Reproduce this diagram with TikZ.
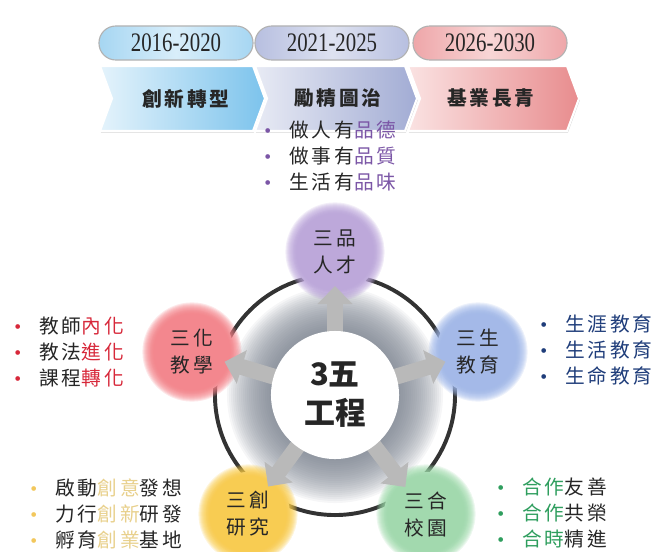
\documentclass[tikz,border=0pt]{standalone}
\usepackage{fontspec}
\setmainfont{Liberation Serif}
\newfontfamily\cjk[LetterSpace=14]{Noto Sans CJK TC}
\newfontfamily\cjkwide{Noto Sans CJK TC}
\newfontfamily\yearfont[FakeStretch=0.78]{Liberation Serif}
\usetikzlibrary{arrows.meta,shadows}

\definecolor{pinpurple}{HTML}{B9A2D9}
\definecolor{pinred}{HTML}{F37E85}
\definecolor{pinblue}{HTML}{9DB5E8}
\definecolor{pinyellow}{HTML}{F8C944}
\definecolor{pingreen}{HTML}{9BD8A8}
\definecolor{tpurple}{HTML}{7B56A6}
\definecolor{tred}{HTML}{D7283A}
\definecolor{tblue}{HTML}{1F3D7A}
\definecolor{tyellow}{HTML}{E8D08C}
\definecolor{byellow}{HTML}{F2C75C}
\definecolor{tgreen}{HTML}{2F9E5E}
\definecolor{haze}{HTML}{737B88}
\definecolor{skyA}{HTML}{A6D6F2}
\definecolor{skyB}{HTML}{D9EEFA}
\definecolor{skyC}{HTML}{7CC3EC}
\definecolor{lilacA}{HTML}{B7BFE0}
\definecolor{lilacB}{HTML}{DEE2F0}
\definecolor{lilacC}{HTML}{A2ACD4}
\definecolor{roseA}{HTML}{EEA6A9}
\definecolor{roseB}{HTML}{F8D6D6}
\definecolor{roseC}{HTML}{E88C8E}

\newcommand\bul[1]{\makebox[0.63cm][l]{\textcolor{#1}{\rmfamily\textbullet}}}

\tikzset{
  pillar/.style={circle, minimum size=2.5cm, inner sep=0pt, align=center,
    font=\cjk\fontsize{14}{19.2}\selectfont, text=black!85,
    path picture={
      \fill[white] (path picture bounding box.center) circle[radius=1.05cm];
      \foreach \k in {0,...,11}
        \fill[#1, opacity=0.18] (path picture bounding box.center) circle[radius=1.24cm-\k*0.025cm];
    }},
  listnode/.style={anchor=west, align=left, inner sep=0pt,
    font=\cjk\fontsize{14}{18.5}\selectfont, text=black!85},
  yearpill/.style={rounded corners=0.42cm, minimum width=3.85cm, minimum height=0.85cm,
    draw=gray!60, line width=0.8pt, font=\yearfont\fontsize{19}{20}\selectfont, text=black!85},
  phasebox/.style={draw=white, line width=1.5pt,
    drop shadow={opacity=0.35, shadow xshift=0.6pt, shadow yshift=-1.2pt}},
  phasetext/.style={font=\cjk\bfseries\fontsize{14}{16}\selectfont, text=black!85},
  spoke/.style={line width=0.4cm, gray!55, -{Triangle[width=0.85cm,length=0.45cm]},
    shorten <=1.5cm, shorten >=0.85cm},
}

\begin{document}
\begin{tikzpicture}[x=0.025cm, y=-0.025cm]
  \useasboundingbox (0,0) rectangle (651,552);

  % timeline
  \node[yearpill, left color=skyA, right color=skyA, middle color=skyB] (y1) at (176,43) {2016-2020};
  \node[yearpill, left color=lilacA, right color=lilacA, middle color=lilacB] (y2) at (332,43) {2021-2025};
  \node[yearpill, left color=roseA, right color=roseA, middle color=roseB] (y3) at (490,43) {2026-2030};

  \draw[phasebox, left color=skyB!70!white, right color=skyC] (100,66) -- (253,66) -- (265,98.5) -- (253,131) -- (100,131) -- (112,98.5) -- cycle;
  \draw[phasebox, left color=lilacB!70!white, right color=lilacC] (255,66) -- (405,66) -- (417,98.5) -- (405,131) -- (255,131) -- (267,98.5) -- cycle;
  \draw[phasebox, left color=roseB!70!white, right color=roseC] (408,66) -- (567,66) -- (579,98.5) -- (567,131) -- (408,131) -- (420,98.5) -- cycle;
  \node[phasetext] (ph1) at (186,98.5) {創新轉型};
  \node[phasetext] (ph2) at (338,98.5) {勵精圖治};
  \node[phasetext] (ph3) at (491,98.5) {基業長青};

  % wheel
  \coordinate (c) at (335,395);
  \foreach \k in {0,...,21}
    \fill[haze, opacity=0.065] (c) circle[radius=2.7cm-\k*0.05cm];
  \draw[line width=2.8pt, black!80] (c) circle[radius=3cm];

  \node[pillar=pinpurple] (talent) at (335,252) {三品\\人才};
  \node[pillar=pinred] (teach) at (192,352) {三化\\教學};
  \node[pillar=pinblue] (life) at (478,352) {三生\\教育};
  \node[pillar=pinyellow] (research) at (248,514) {三創\\研究};
  \node[pillar=pingreen] (campus) at (426,514) {三合\\校園};

  \foreach \p in {talent,teach,life,research,campus}
    \draw[spoke] (c) -- (\p.center);

  \node[circle, fill=white, minimum size=3.2cm, inner sep=0pt, align=center,
    font=\cjkwide\bfseries\fontsize{22}{27.7}\selectfont, text=black!85] (hub) at (c) {3五\\工程};

  % lists
  \node[listnode] (talentlist) at (264,156) {\bul{tpurple}做人有\textcolor{tpurple}{品德}\\
    \bul{tpurple}做事有\textcolor{tpurple}{品質}\\
    \bul{tpurple}生活有\textcolor{tpurple}{品味}};
  \node[listnode] (teachlist) at (14,352) {\bul{tred}教師\textcolor{tred}{內化}\\
    \bul{tred}教法\textcolor{tred}{進化}\\
    \bul{tred}課程\textcolor{tred}{轉化}};
  \node[listnode, text=tblue] (lifelist) at (540,350) {\bul{tblue}生涯教育\\
    \bul{tblue}生活教育\\
    \bul{tblue}生命教育};
  \node[listnode] (researchlist) at (30,514) {\bul{byellow}啟動\textcolor{tyellow}{創意}發想\\
    \bul{byellow}力行\textcolor{tyellow}{創新}研發\\
    \bul{byellow}孵育\textcolor{tyellow}{創業}基地};
  \node[listnode] (campuslist) at (497,513) {\bul{tgreen}\textcolor{tgreen}{合作}友善\\
    \bul{tgreen}\textcolor{tgreen}{合作}共榮\\
    \bul{tgreen}\textcolor{tgreen}{合時}精進};
\end{tikzpicture}
\end{document}
